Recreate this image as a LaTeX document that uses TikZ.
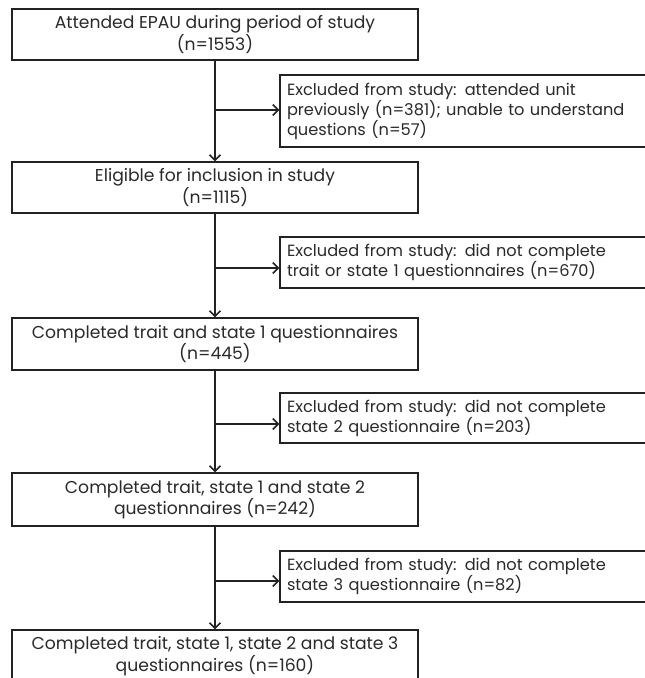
\documentclass[tikz,border=0pt]{standalone}
\usepackage{fontspec}
\setmainfont{Poppins}
\usetikzlibrary{arrows.meta}
\definecolor{ink}{HTML}{222222}
\definecolor{txt}{HTML}{2A2A2A}
\begin{document}
\begin{tikzpicture}[x=1pt,y=-1pt,
  every node/.style={font=\fontsize{17.2}{20}\selectfont, text=txt},
  stagebox/.style={draw=ink, line width=1.2pt, minimum width=406pt, align=center,
    inner sep=0pt, fill=white},
  exclbox/.style={draw=ink, line width=1.2pt, minimum width=366pt, align=left,
    text width=352pt, inner xsep=7pt, inner ysep=0pt, fill=white,
    font=\fontsize{16.2}{20}\selectfont},
  flow/.style={draw=ink, line width=1.3pt, -{Straight Barb[length=5.5pt,width=11pt,line width=1.6pt]}}]
\useasboundingbox (0,0) rectangle (645,678);
\clip (0,0) rectangle (645,678);
\fill[white] (0,0) rectangle (645,678);

% main stages
\node[stagebox, minimum height=51pt] (s1) at (215,34.5)
  {Attended EPAU during period of study\\(n=1553)};
\node[stagebox, minimum height=51pt] (s2) at (215,187.5)
  {Eligible for inclusion in study\\(n=1115)};
\node[stagebox, minimum height=52pt] (s3) at (215,344)
  {Completed trait and state 1 questionnaires\\(n=445)};
\node[stagebox, minimum height=53pt] (s4) at (215,499.5)
  {Completed trait, state 1 and state 2\\questionnaires (n=242)};
\node[stagebox, minimum height=52pt] (s5) at (215,656)
  {Completed trait, state 1, state 2 and state 3\\questionnaires (n=160)};

% exclusions
\node[exclbox, minimum height=72pt] (e1) at (463,111)
  {Excluded from study: attended unit\\previously (n=381); unable to understand\\questions (n=57)};
\node[exclbox, minimum height=51pt] (e2) at (463,262.5)
  {Excluded from study: did not complete\\trait or state 1 questionnaires (n=670)};
\node[exclbox, minimum height=50pt] (e3) at (463,418)
  {Excluded from study: did not complete\\state 2 questionnaire (n=203)};
\node[exclbox, minimum height=51pt] (e4) at (463,576.5)
  {Excluded from study: did not complete\\state 3 questionnaire (n=82)};

% branch points on the main flow line
\coordinate (b1) at (215,110);
\coordinate (b2) at (215,268);
\coordinate (b3) at (215,424);
\coordinate (b4) at (215,581);

\draw[flow] (s1) -- (s2);
\draw[flow] (s2) -- (s3);
\draw[flow] (s3) -- (s4);
\draw[flow] (s4) -- (s5);

\draw[flow] (b1) -- (b1 -| e1.west);
\draw[flow] (b2) -- (b2 -| e2.west);
\draw[flow] (b3) -- (b3 -| e3.west);
\draw[flow] (b4) -- (b4 -| e4.west);
\end{tikzpicture}
\end{document}
